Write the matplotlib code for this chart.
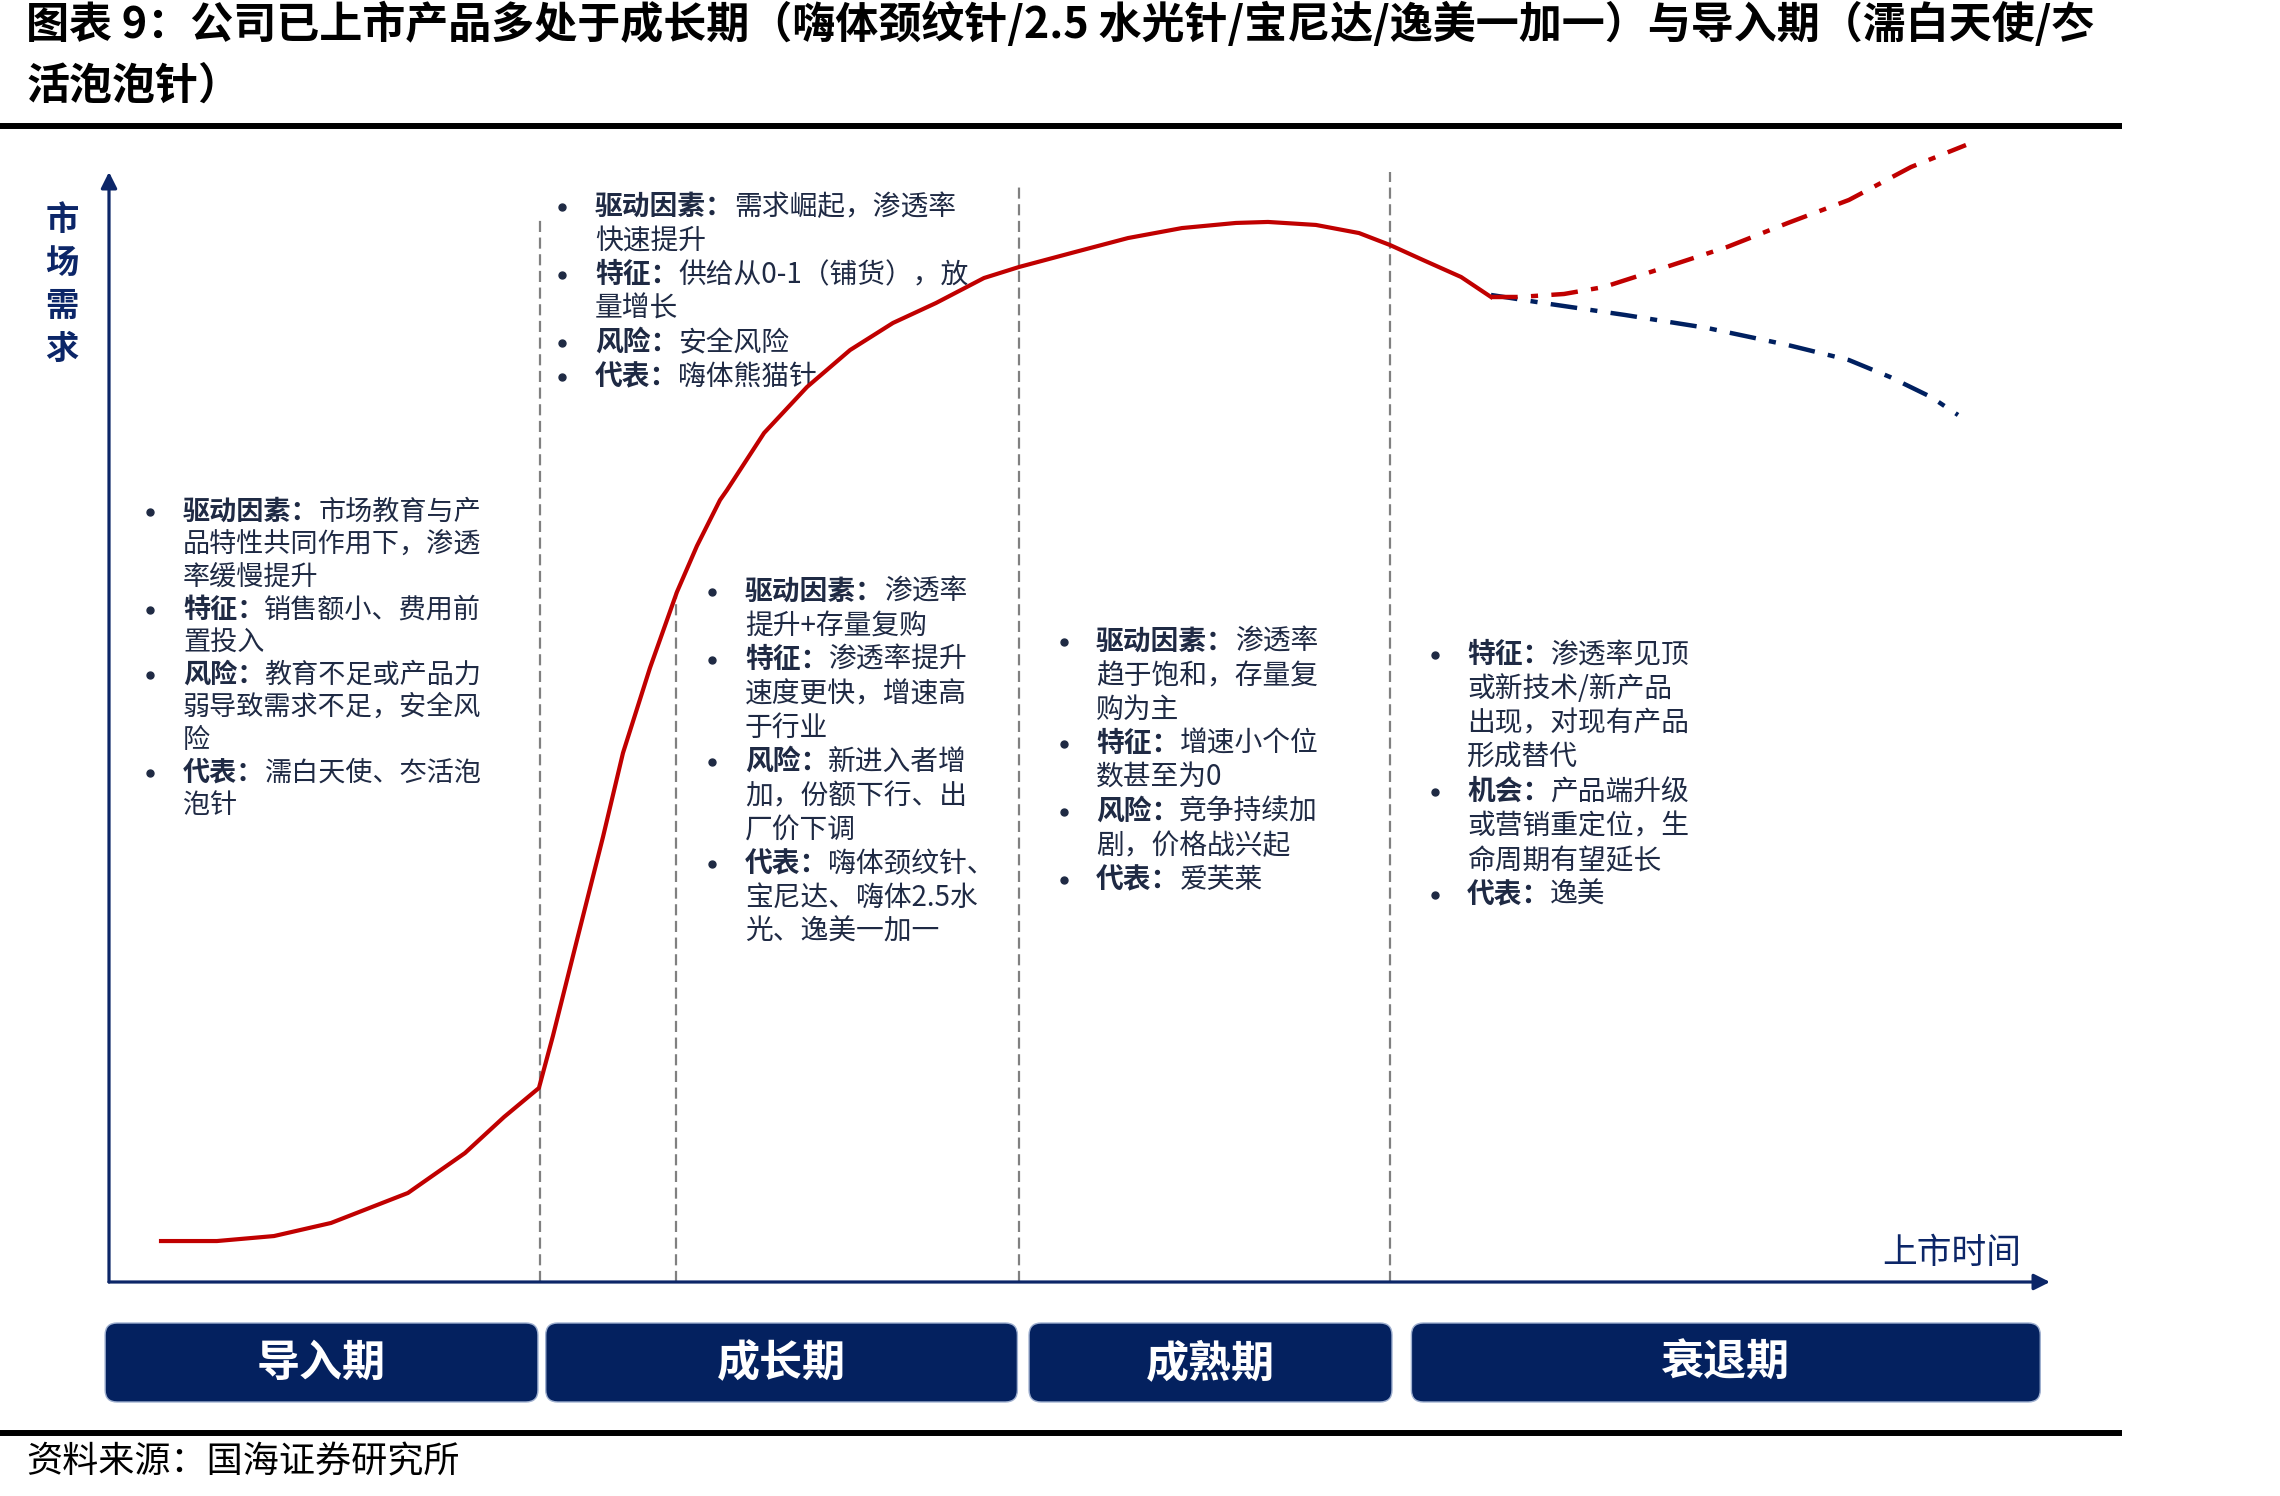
import numpy as np
import matplotlib.pyplot as plt
from matplotlib.patches import FancyBboxPatch

plt.rcParams['font.family'] = ['Noto Sans CJK SC', 'DejaVu Sans']

#  CONFIG
W, H = 2280, 1496
NAVY = '#0C2668'
BAR = '#04215F'
RED = '#C00000'
TXT = '#1F2A44'
GRID = '#808080'

#  DATA  (time: 0-100 along x axis, demand: 0-100 along y axis)
main_t = [2.68, 5.56, 8.50, 11.44, 15.40, 18.34, 20.35, 22.15, 22.87, 24.11,
          25.45, 26.48, 27.87, 29.26, 30.29, 31.48, 31.84, 33.75, 35.96, 38.18,
          40.39, 42.61, 45.08, 46.88, 49.77, 52.50, 55.28, 58.06, 59.71, 62.18,
          64.40, 66.00, 67.70, 69.66, 71.20]
main_d = [3.69, 3.69, 4.14, 5.32, 8.02, 11.62, 14.86, 17.48, 22.16, 30.81,
          40.09, 47.66, 55.32, 62.16, 66.31, 70.45, 71.35, 76.49, 80.63, 83.96,
          86.40, 88.20, 90.45, 91.44, 92.79, 94.05, 94.95, 95.41, 95.50, 95.23,
          94.50, 93.42, 92.07, 90.54, 88.74]

up_t = [71.20, 72.64, 74.96, 77.02, 80.22, 83.36, 86.50, 89.64, 92.84, 95.67]
up_d = [88.74, 88.74, 89.01, 89.64, 91.44, 93.24, 95.41, 97.48, 100.45, 102.43]

down_t = [71.20, 73.88, 78.10, 82.33, 86.50, 89.64, 91.76, 93.87, 95.26]
down_d = [88.92, 88.20, 87.12, 85.95, 84.41, 83.06, 81.53, 79.73, 78.11]

sep_t = [22.2, 29.2, 46.9, 66.0]
sep_top = [95.9, 62.2, 98.8, 100.0]

stages = ['导入期', '成长期', '成熟期', '衰退期']
stage_start = [-0.2, 22.5, 47.4, 67.1]
stage_end = [22.1, 46.8, 66.1, 99.5]

title1 = '图表 9：公司已上市产品多处于成长期（嗨体颈纹针/2.5 水光针/宝尼达/逸美一加一）与导入期（濡白天使/冭'
title2 = '活泡泡针）'
source = '资料来源：国海证券研究所'

block_intro = [
    ('驱动因素：', ['市场教育与产', '品特性共同作用下，渗透', '率缓慢提升']),
    ('特征：', ['销售额小、费用前', '置投入']),
    ('风险：', ['教育不足或产品力', '弱导致需求不足，安全风', '险']),
    ('代表：', ['濡白天使、冭活泡', '泡针']),
]
block_growth_early = [
    ('驱动因素：', ['需求崛起，渗透率', '快速提升']),
    ('特征：', ['供给从0-1（铺货），放', '量增长']),
    ('风险：', ['安全风险']),
    ('代表：', ['嗨体熊猫针']),
]
block_growth = [
    ('驱动因素：', ['渗透率', '提升+存量复购']),
    ('特征：', ['渗透率提升', '速度更快，增速高', '于行业']),
    ('风险：', ['新进入者增', '加，份额下行、出', '厂价下调']),
    ('代表：', ['嗨体颈纹针、', '宝尼达、嗨体2.5水', '光、逸美一加一']),
]
block_mature = [
    ('驱动因素：', ['渗透率', '趋于饱和，存量复', '购为主']),
    ('特征：', ['增速小个位', '数甚至为0']),
    ('风险：', ['竞争持续加', '剧，价格战兴起']),
    ('代表：', ['爱芙莱']),
]
block_decline = [
    ('特征：', ['渗透率见顶', '或新技术/新产品', '出现，对现有产品', '形成替代']),
    ('机会：', ['产品端升级', '或营销重定位，生', '命周期有望延长']),
    ('代表：', ['逸美']),
]

#  FIGURE
fig = plt.figure(figsize=(W / 100, H / 100), dpi=100)
ov = fig.add_axes([0, 0, 1, 1])
ov.set_xlim(0, W); ov.set_ylim(H, 0); ov.axis('off')

ax = fig.add_axes([109 / W, 1 - 1282 / H, (2050 - 109) / W, (1282 - 172) / H])
ax.set_xlim(0, 100); ax.set_ylim(0, 100); ax.axis('off')

# axes arrows
arrow = dict(arrowstyle='-|>', color=NAVY, lw=2.3, mutation_scale=24,
             shrinkA=0, shrinkB=0)
ax.annotate('', xy=(1, 0), xytext=(0, 0), xycoords='axes fraction', arrowprops=arrow)
ax.annotate('', xy=(0, 1), xytext=(0, 0), xycoords='axes fraction', arrowprops=arrow)

# stage separators
for t, top in zip(sep_t, sep_top):
    ax.plot([t, t], [0, top], color=GRID, lw=1.6, ls=(0, (5, 2.5)), zorder=1,
            clip_on=False)

# curves
ax.plot(down_t, down_d, color='#002060', lw=3.2, ls=(0, (6, 3, 1.6, 3)),
        clip_on=False, zorder=3)
ax.plot(up_t, up_d, color=RED, lw=3.2, ls=(0, (6, 3, 1.6, 3)),
        clip_on=False, zorder=4)
ax.plot(main_t, main_d, color=RED, lw=3, clip_on=False, zorder=5,
        solid_joinstyle='round')

# stage bars (x from chart data, drawn in pixel space so corners stay round)
for name, t0, t1 in zip(stages, stage_start, stage_end):
    x0 = ax.transData.transform((t0, 0))[0]
    x1 = ax.transData.transform((t1, 0))[0]
    ov.add_patch(FancyBboxPatch((x0, 1323), x1 - x0, 79,
                                boxstyle='round,pad=0,rounding_size=12',
                                fc=BAR, ec='#9FB0D0', lw=1))
    ov.text((x0 + x1) / 2, 1363, name, color='white', fontsize=31,
            fontweight='bold', ha='center', va='center')

# title / rules / source
ov.text(26, 24, title1, fontsize=31, fontweight='bold', ha='left', va='center')
ov.text(26, 86, title2, fontsize=31, fontweight='bold', ha='left', va='center')
ov.plot([0, 2122], [125.5, 125.5], color='black', lw=4.3, solid_capstyle='butt')
ov.plot([0, 2122], [1433, 1433], color='black', lw=4.3, solid_capstyle='butt')
ov.text(26, 1462, source, fontsize=26, ha='left', va='center')

# axis labels
for i, ch in enumerate('市场需求'):
    ov.text(62, 220 + i * 43, ch, fontsize=24, fontweight='bold', color=NAVY,
            ha='center', va='center')
ov.text(1952, 1254, '上市时间', fontsize=25, color=NAVY, ha='center', va='center')


#  TEXT BLOCKS
def draw_block(items, bx, tx, y0, step, fs=20):
    pitch = fs / 72 * 100
    y = y0
    for label, lines in items:
        ov.plot(bx, y, 'o', ms=5, color=TXT)
        ov.text(tx, y, label, fontsize=fs, fontweight='bold', color=TXT, va='center')
        ov.text(tx + len(label) * pitch, y, lines[0], fontsize=fs, color=TXT,
                va='center')
        y += step
        for ln in lines[1:]:
            ov.text(tx, y, ln, fontsize=fs, color=TXT, va='center')
            y += step


draw_block(block_intro, 150, 183, 512, 32.6, fs=19.5)
draw_block(block_growth_early, 562, 595, 207, 34)
draw_block(block_growth, 712, 745, 592, 34)
draw_block(block_mature, 1064, 1096, 642, 34)
draw_block(block_decline, 1435, 1467, 655, 34.3)

fig.savefig('out.png', dpi=100)
